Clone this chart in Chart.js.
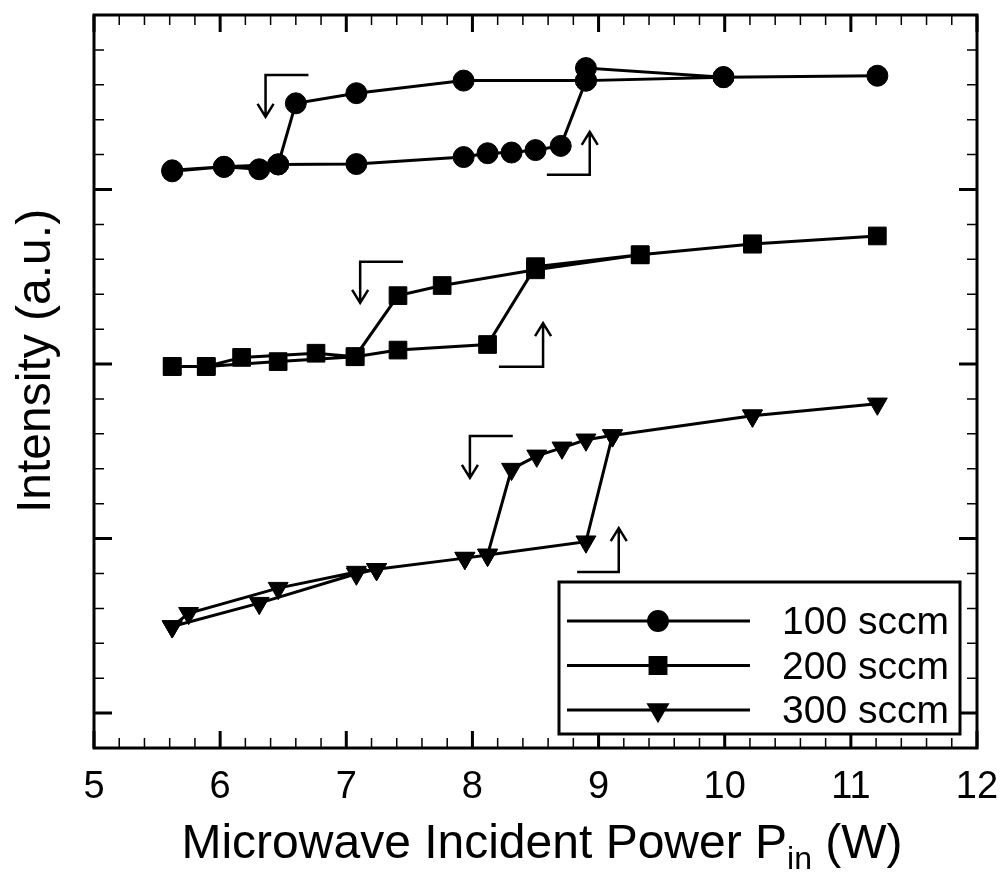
<!DOCTYPE html>
<html>
<head>
<meta charset="utf-8">
<script src="https://cdn.jsdelivr.net/npm/chart.js@4.4.1/dist/chart.umd.min.js"></script>
<style>
  html, body { margin: 0; padding: 0; background: #fff; }
  canvas { display: block; }
</style>
</head>
<body>
<canvas id="hysteresisChart" width="1003" height="874"></canvas>
<script>
const FONT = '"Liberation Sans", Arial, Helvetica, sans-serif';

const seriesLabels = ['100 sccm', '200 sccm', '300 sccm'];

// each loop: power going up, then coming back down
const power100 = [5.62, 6.03, 6.46, 7.08, 7.93, 8.12, 8.31, 8.50, 8.70, 8.90, 9.99, 11.21,
                  9.99, 8.90, 8.90, 7.93, 7.08, 6.60, 6.46, 6.31, 6.03, 5.62];
const intensity100 = [16.55, 16.65, 16.72, 16.73, 16.93, 17.04, 17.06, 17.13, 17.25, 19.12, 19.22, 19.26,
                      19.22, 19.48, 19.12, 19.12, 18.76, 18.47, 16.72, 16.58, 16.65, 16.52];

const power200 = [5.62, 5.89, 6.17, 6.76, 7.07, 7.41, 8.12, 8.50, 9.33, 10.22, 11.21,
                  10.22, 9.33, 8.50, 7.76, 7.41, 7.07, 6.46, 5.89, 5.62];
const intensity200 = [10.93, 10.93, 11.19, 11.31, 11.21, 11.40, 11.56, 13.79, 14.13, 14.44, 14.67,
                      14.44, 14.13, 13.70, 13.25, 12.96, 11.21, 11.07, 10.93, 10.93];

const power300 = [5.62, 6.31, 7.08, 7.24, 7.94, 8.12, 8.90, 9.11, 10.22, 11.21,
                  10.22, 9.11, 8.90, 8.71, 8.51, 8.31, 8.12, 7.94, 7.24, 7.08, 6.46, 5.75, 5.62];
const intensity300 = [3.48, 4.15, 4.99, 5.12, 5.44, 5.53, 5.91, 8.95, 9.52, 9.86,
                      9.52, 8.95, 8.83, 8.60, 8.37, 7.99, 5.53, 5.44, 5.12, 5.04, 4.58, 3.86, 3.48];

const xMajorTicks = [5, 6, 7, 8, 9, 10, 11, 12];
const yMajorTicks = [1, 6, 11, 16];

// sweep-direction arrows: corner, end of the flat arm, tip of the upright arm
const arrowCornerX = [6.36, 8.93, 7.11, 8.56, 7.98, 9.16];
const arrowCornerY = [19.28, 16.42, 13.93, 10.92, 8.94, 5.04];
const arrowArmX = [6.70, 8.59, 7.45, 8.21, 8.32, 8.83];
const arrowTipY = [18.08, 17.65, 12.75, 12.17, 7.74, 6.30];

function toPoints(xs, ys) {
  return xs.map((v, i) => ({ x: v, y: ys[i] }));
}

function makeSet(label, xs, ys, style, radius, rotation) {
  return {
    label: label,
    data: toPoints(xs, ys),
    borderColor: '#000',
    borderWidth: 3,
    backgroundColor: '#000',
    pointStyle: style,
    pointRadius: radius,
    pointRotation: rotation,
    pointBackgroundColor: '#000',
    pointBorderColor: '#000',
    pointBorderWidth: 1,
    tension: 0,
    clip: false
  };
}

const frameTicks = {
  id: 'frameTicks',
  afterDatasetsDraw(chart) {
    const { ctx, chartArea: a, scales: { x, y } } = chart;
    ctx.save();
    ctx.strokeStyle = '#000';
    ctx.lineCap = 'butt';

    // minor ticks
    ctx.lineWidth = 1.5;
    ctx.beginPath();
    for (let i = 0; i <= 35; i++) {
      const px = x.getPixelForValue(5 + i * 0.2);
      ctx.moveTo(px, a.bottom); ctx.lineTo(px, a.bottom - 10);
      ctx.moveTo(px, a.top); ctx.lineTo(px, a.top + 10);
    }
    for (let v = 1; v <= 20; v++) {
      const py = y.getPixelForValue(v);
      ctx.moveTo(a.left, py); ctx.lineTo(a.left + 10, py);
      ctx.moveTo(a.right, py); ctx.lineTo(a.right - 10, py);
    }
    ctx.stroke();

    // major ticks
    ctx.lineWidth = 3;
    ctx.beginPath();
    xMajorTicks.forEach(v => {
      const px = x.getPixelForValue(v);
      ctx.moveTo(px, a.bottom); ctx.lineTo(px, a.bottom - 17);
      ctx.moveTo(px, a.top); ctx.lineTo(px, a.top + 17);
    });
    yMajorTicks.forEach(v => {
      const py = y.getPixelForValue(v);
      ctx.moveTo(a.left, py); ctx.lineTo(a.left + 18, py);
      ctx.moveTo(a.right, py); ctx.lineTo(a.right - 18, py);
    });
    ctx.stroke();

    ctx.lineWidth = 3;
    ctx.strokeRect(a.left, a.top, a.right - a.left, a.bottom - a.top);

    // arrows
    ctx.lineWidth = 2.5;
    ctx.lineJoin = 'miter';
    for (let i = 0; i < arrowCornerX.length; i++) {
      const cx = x.getPixelForValue(arrowCornerX[i]);
      const cy = y.getPixelForValue(arrowCornerY[i]);
      const ax = x.getPixelForValue(arrowArmX[i]);
      const ty = y.getPixelForValue(arrowTipY[i]);
      const dir = ty > cy ? -1 : 1;
      ctx.beginPath();
      ctx.moveTo(ax, cy); ctx.lineTo(cx, cy); ctx.lineTo(cx, ty);
      ctx.moveTo(cx - 8, ty + dir * 13); ctx.lineTo(cx, ty); ctx.lineTo(cx + 8, ty + dir * 13);
      ctx.stroke();
    }
    ctx.restore();
  },
  afterDraw(chart) {
    const { ctx } = chart;
    ctx.save();
    ctx.fillStyle = '#000';
    ctx.textBaseline = 'alphabetic';
    ctx.textAlign = 'left';

    // x title with subscript
    const main = 'Microwave Incident Power P';
    const sub = 'in';
    const tail = ' (W)';
    ctx.font = '48px ' + FONT;
    const w1 = ctx.measureText(main).width;
    const w3 = ctx.measureText(tail).width;
    ctx.font = '32px ' + FONT;
    const w2 = ctx.measureText(sub).width;
    const sx = 542 - (w1 + w2 + w3) / 2;
    const base = 858;
    ctx.font = '48px ' + FONT;
    ctx.fillText(main, sx, base);
    ctx.font = '32px ' + FONT;
    ctx.fillText(sub, sx + w1, base + 11);
    ctx.font = '48px ' + FONT;
    ctx.fillText(tail, sx + w1 + w2, base);

    // y title, rotated, starting near the bottom of the frame
    ctx.save();
    ctx.translate(50, 513);
    ctx.rotate(-Math.PI / 2);
    ctx.font = '48px ' + FONT;
    ctx.textAlign = 'left';
    ctx.fillText('Intensity (a.u.)', 0, 0);
    ctx.restore();

    // legend box
    const box = { left: 559, top: 582, right: 960, bottom: 734 };
    ctx.fillStyle = '#fff';
    ctx.fillRect(box.left, box.top, box.right - box.left, box.bottom - box.top);
    ctx.strokeStyle = '#000';
    ctx.lineWidth = 3;
    ctx.strokeRect(box.left, box.top, box.right - box.left, box.bottom - box.top);
    const rows = [621, 665.5, 710];
    chart.data.datasets.forEach((ds, i) => {
      const ly = rows[i];
      ctx.lineWidth = 3;
      ctx.strokeStyle = '#000';
      ctx.beginPath();
      ctx.moveTo(567, ly); ctx.lineTo(750, ly);
      ctx.stroke();
      ctx.fillStyle = '#000';
      Chart.helpers.drawPoint(ctx, {
        pointStyle: ds.pointStyle,
        rotation: ds.pointRotation,
        radius: ds.pointRadius * 0.9,
        borderWidth: 1
      }, 658, ly);
      ctx.fillStyle = '#000';
      ctx.font = '39px ' + FONT;
      ctx.textAlign = 'right';
      ctx.fillText(ds.label, 949, ly + 13);
    });
    ctx.restore();
  }
};

const ctx = document.getElementById('hysteresisChart').getContext('2d');

new Chart(ctx, {
  type: 'line',
  data: {
    datasets: [
      makeSet(seriesLabels[0], power100, intensity100, 'circle', 10.5, 0),
      makeSet(seriesLabels[1], power200, intensity200, 'rect', 12.5, 0),
      makeSet(seriesLabels[2], power300, intensity300, 'triangle', 11.5, 180)
    ]
  },
  options: {
    responsive: false,
    animation: false,
    layout: { padding: { top: 15, right: 26, left: 0, bottom: 0 } },
    plugins: {
      legend: { display: false },
      tooltip: { enabled: false }
    },
    scales: {
      x: {
        type: 'linear',
        min: 5,
        max: 12,
        grid: { display: false, drawTicks: false },
        border: { display: false },
        afterBuildTicks: scale => { scale.ticks = xMajorTicks.map(v => ({ value: v })); },
        afterFit: scale => {
          scale.height = 126;
          scale.paddingLeft = 0;
          scale.paddingRight = 0;
        },
        ticks: {
          color: '#000',
          padding: 17,
          maxRotation: 0,
          font: { family: FONT, size: 38 }
        }
      },
      y: {
        type: 'linear',
        min: 0,
        max: 21,
        grid: { display: false, drawTicks: false },
        border: { display: false },
        afterFit: scale => {
          scale.width = 94;
          scale.paddingTop = 0;
          scale.paddingBottom = 0;
        },
        ticks: { display: false }
      }
    }
  },
  plugins: [frameTicks]
});
</script>
</body>
</html>
